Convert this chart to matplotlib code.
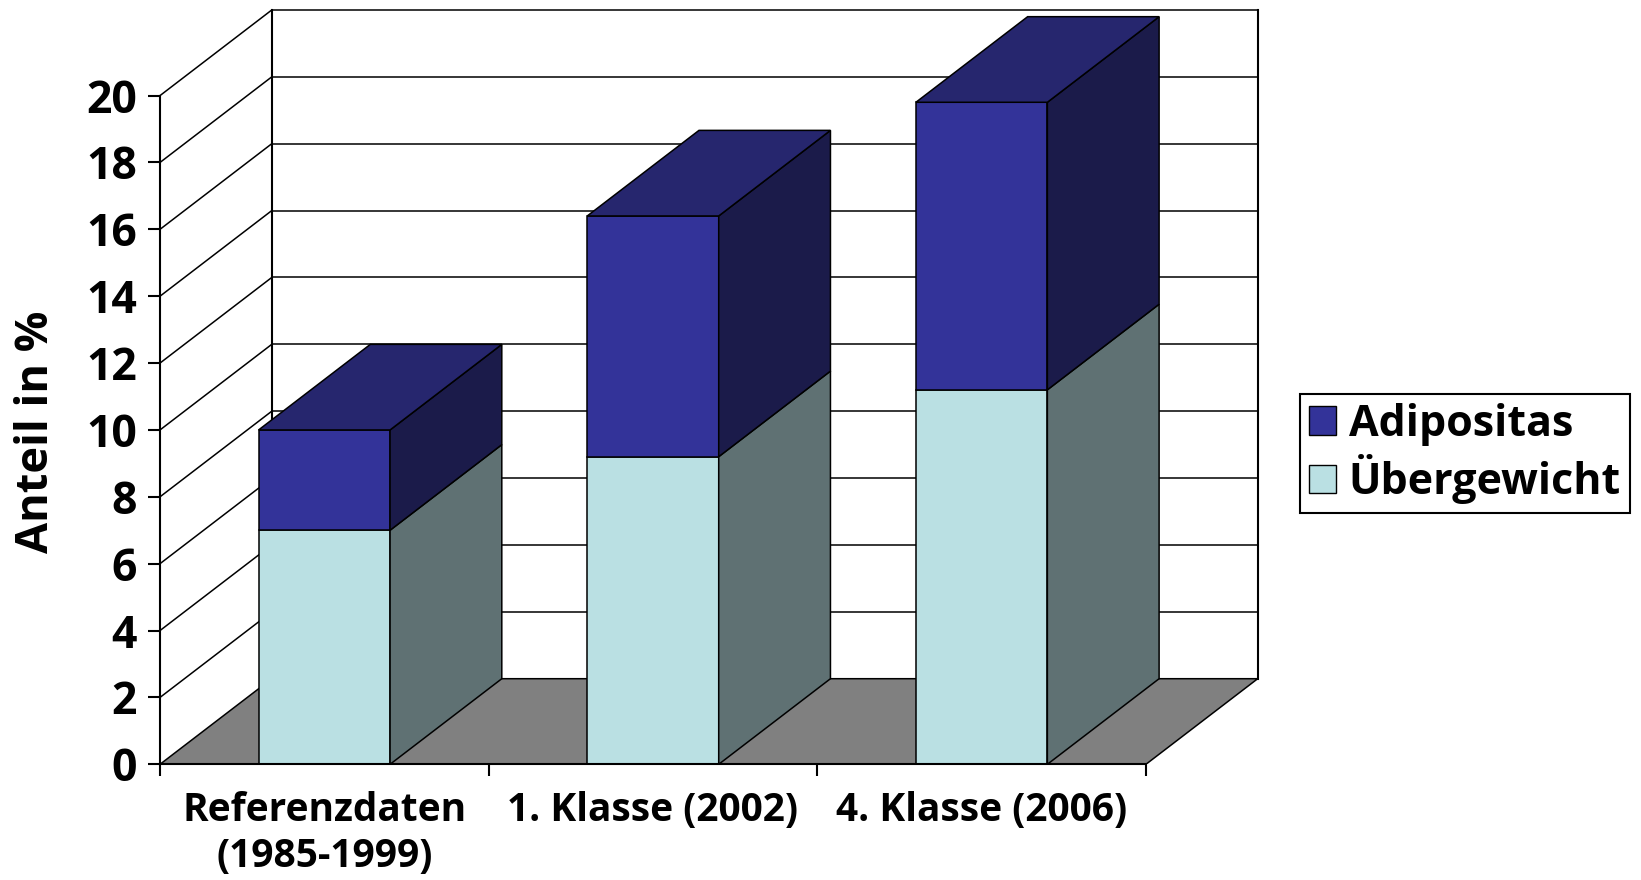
import matplotlib
matplotlib.use("Agg")
import matplotlib.pyplot as plt
from matplotlib.patches import Polygon, Patch

# Daten
kategorien = ["Referenzdaten\n(1985-1999)", "1. Klasse (2002)", "4. Klasse (2006)"]
uebergewicht = [7.0, 9.2, 11.2]
adipositas = [3.0, 7.2, 8.6]
y_ticks = list(range(0, 21, 2))

plt.rcParams["font.family"] = ["Open Sans", "DejaVu Sans"]
plt.rcParams["font.weight"] = "bold"

fig = plt.figure(figsize=(16.41, 8.8), dpi=100)
ax = fig.add_axes([160 / 1641, (880 - 764.3) / 880, (1257.7 - 160) / 1641, (764.3 - 10) / 880])

# Tiefe der 3D-Darstellung (in Datenkoordinaten)
tief_x, tief_y = 0.34, 2.56
n = len(kategorien)
ax.set_xlim(0, n + tief_x)
ax.set_ylim(0, y_ticks[-1] + tief_y)
lw = 1.1

# Rueckwand mit Gitterlinien und linke Seitenwand
for y in y_ticks:
    ax.plot([tief_x, n + tief_x], [y + tief_y] * 2, color="black", lw=lw, zorder=1, clip_on=False)
    if y > 0:
        ax.plot([0, tief_x], [y, y + tief_y], color="black", lw=lw, zorder=1, clip_on=False)
ax.plot([tief_x] * 2, [tief_y, y_ticks[-1] + tief_y], color="black", lw=1.5, zorder=1, clip_on=False)
ax.plot([n + tief_x] * 2, [tief_y, y_ticks[-1] + tief_y], color="black", lw=1.5, zorder=1, clip_on=False)

# Boden
boden = Polygon([(0, 0), (n, 0), (n + tief_x, tief_y), (tief_x, tief_y)],
                facecolor="#808080", edgecolor="black", lw=lw, zorder=2)
ax.add_patch(boden)

# Saeulen (Vorderseite)
x = [i + 0.5 for i in range(n)]
breite = 0.4
ax.bar(x, uebergewicht, width=breite, color="#bae0e3", edgecolor="black", lw=lw, zorder=3)
ax.bar(x, adipositas, bottom=uebergewicht, width=breite, color="#333399", edgecolor="black", lw=lw, zorder=3)

# Seiten- und Deckflaechen
for xi, u, a in zip(x, uebergewicht, adipositas):
    x0, x1 = xi - breite / 2, xi + breite / 2
    oben = u + a
    for unten, top, farbe in [(0, u, "#5f7173"), (u, oben, "#1b1b4a")]:
        ax.add_patch(Polygon([(x1, unten), (x1 + tief_x, unten + tief_y),
                              (x1 + tief_x, top + tief_y), (x1, top)],
                             facecolor=farbe, edgecolor="black", lw=lw, zorder=3))
    ax.add_patch(Polygon([(x0, oben), (x1, oben), (x1 + tief_x, oben + tief_y), (x0 + tief_x, oben + tief_y)],
                         facecolor="#26266e", edgecolor="black", lw=lw, zorder=3))

# Achsen
for s in ["top", "right"]:
    ax.spines[s].set_visible(False)
ax.spines["left"].set_bounds(0, y_ticks[-1])
ax.spines["bottom"].set_bounds(0, n)
for s in ["left", "bottom"]:
    ax.spines[s].set_linewidth(1.5)
    ax.spines[s].set_zorder(4)

ax.set_yticks(y_ticks)
ax.tick_params(axis="y", length=8.6, width=1.5, pad=8, labelsize=32)
ax.set_xticks(range(n + 1))
ax.set_xticklabels([])
ax.set_xticks(x, minor=True)
ax.set_xticklabels(kategorien, minor=True)
ax.tick_params(axis="x", which="major", length=8.6, width=1.5)
ax.tick_params(axis="x", which="minor", length=0, pad=19, labelsize=28)
for lbl in ax.get_xticklabels(minor=True):
    lbl.set_linespacing(1.25)

fig.text(37 / 1641, 1 - 431.5 / 880, "Anteil in %", rotation=90, fontsize=32.5,
         fontweight="bold", ha="center", va="center")

# Legende
handles = [Patch(facecolor="#333399", edgecolor="black", label="Adipositas"),
           Patch(facecolor="#bae0e3", edgecolor="black", label="Übergewicht")]
leg = fig.legend(handles=handles, loc="upper left", bbox_to_anchor=(1300 / 1641, 1 - 394 / 880),
                 prop={"size": 31, "weight": "bold"}, frameon=True, fancybox=False,
                 edgecolor="black", framealpha=1, handlelength=0.63, handleheight=0.63,
                 handletextpad=0.3, borderpad=0.2, labelspacing=0.2, borderaxespad=0)
leg.get_frame().set_linewidth(1.5)

plt.savefig("out.png", dpi=100)
